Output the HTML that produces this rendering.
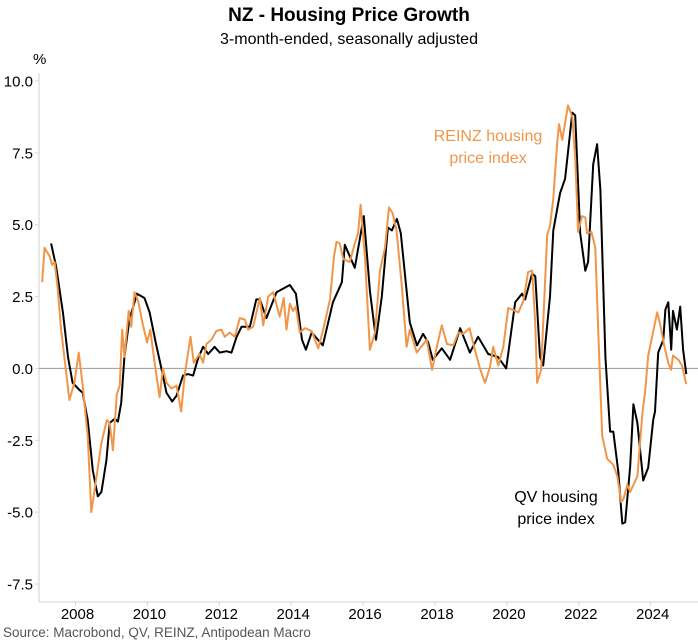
<!DOCTYPE html>
<html><head><meta charset="utf-8"><style>
body{margin:0;background:#fff;}
svg{display:block;font-family:"Liberation Sans",Arial,sans-serif;}
</style></head><body>
<svg width="698" height="641" viewBox="0 0 698 641">
<text x="349" y="21" text-anchor="middle" font-size="19" font-weight="bold" fill="#000">NZ - Housing Price Growth</text>
<text x="349" y="44" text-anchor="middle" font-size="16" fill="#000">3-month-ended, seasonally adjusted</text>
<text x="33" y="64" font-size="15" fill="#000">%</text>
<g id="axes"></g>
<g id="series"></g>
<text font-size="16" fill="#f0964a" text-anchor="middle"><tspan x="488" y="141">REINZ housing</tspan><tspan x="488" y="163">price index</tspan></text>
<text font-size="16" fill="#000" text-anchor="middle"><tspan x="556" y="502">QV housing</tspan><tspan x="556" y="524">price index</tspan></text>
<text x="3" y="637" font-size="13.5" fill="#555">Source: Macrobond, QV, REINZ, Antipodean Macro</text>
</svg>
<script>
const yTicks=[10,7.5,5,2.5,0,-2.5,-5,-7.5];
const yTickLabels=["10.0","7.5","5.0","2.5","0.0","-2.5","-5.0","-7.5"];
const xTicks=[2008,2010,2012,2014,2016,2018,2020,2022,2024];
const qvDates=[2007.32,2007.46,2007.65,2007.79,2007.92,2008.11,2008.20,2008.34,2008.48,2008.62,2008.72,2008.86,2008.95,2009.09,2009.18,2009.27,2009.36,2009.50,2009.71,2009.92,2010.06,2010.23,2010.39,2010.53,2010.69,2010.81,2010.99,2011.13,2011.27,2011.41,2011.55,2011.69,2011.87,2012.01,2012.20,2012.34,2012.48,2012.62,2012.85,2013.03,2013.13,2013.31,2013.59,2013.96,2014.13,2014.30,2014.41,2014.57,2014.88,2015.16,2015.41,2015.49,2015.77,2016.02,2016.19,2016.36,2016.52,2016.69,2016.80,2016.94,2017.05,2017.30,2017.50,2017.67,2017.81,2017.94,2018.19,2018.42,2018.70,2018.97,2019.20,2019.48,2019.75,2019.98,2020.23,2020.42,2020.51,2020.70,2020.79,2020.92,2021.01,2021.20,2021.29,2021.48,2021.62,2021.82,2021.90,2022.04,2022.18,2022.26,2022.40,2022.51,2022.60,2022.74,2022.87,2022.96,2023.10,2023.21,2023.29,2023.43,2023.52,2023.63,2023.79,2023.93,2024.07,2024.12,2024.21,2024.35,2024.41,2024.49,2024.57,2024.62,2024.73,2024.82,2024.90,2024.99];
const qvValues=[4.35,3.55,1.95,0.4,-0.5,-0.75,-0.85,-1.8,-3.55,-4.45,-4.3,-3.2,-1.9,-1.75,-1.85,-1.2,0.4,1.7,2.6,2.45,1.95,0.9,0,-0.85,-1.15,-0.95,-0.25,-0.2,-0.25,0.35,0.75,0.5,0.75,0.55,0.6,0.55,1.1,1.45,1.45,2.4,2.4,1.75,2.65,2.9,2.6,1.0,0.65,1.25,0.8,2.3,3.0,4.3,3.5,5.3,2.7,1.0,2.5,4.9,4.8,5.2,4.7,1.6,0.8,1.2,0.9,0.3,0.7,0.3,1.4,0.55,1.1,0.5,0.4,0,2.3,2.6,2.4,3.3,3.2,0.4,0.1,2.5,4.8,6.1,6.6,8.9,8.8,4.7,3.4,3.7,7.1,7.8,6.2,0.4,-2.2,-2.2,-3.6,-5.4,-5.35,-3.4,-1.25,-1.9,-3.9,-3.45,-1.8,-1.5,0.55,1.0,2.05,2.3,0.65,2.0,1.35,2.15,0.65,-0.2];
const reinzDates=[2007.07,2007.14,2007.28,2007.35,2007.42,2007.50,2007.60,2007.74,2007.83,2007.97,2008.09,2008.20,2008.34,2008.44,2008.58,2008.72,2008.87,2008.95,2009.04,2009.15,2009.23,2009.30,2009.36,2009.48,2009.55,2009.64,2009.74,2009.87,2009.99,2010.08,2010.20,2010.34,2010.43,2010.53,2010.67,2010.81,2010.94,2011.04,2011.20,2011.29,2011.45,2011.55,2011.64,2011.78,2011.92,2012.06,2012.15,2012.29,2012.43,2012.57,2012.71,2012.80,2012.94,2013.13,2013.22,2013.36,2013.50,2013.68,2013.79,2013.87,2013.96,2014.05,2014.13,2014.24,2014.38,2014.57,2014.75,2014.89,2015.08,2015.19,2015.26,2015.35,2015.45,2015.63,2015.77,2015.86,2015.93,2016.05,2016.19,2016.33,2016.47,2016.61,2016.72,2016.82,2016.93,2017.07,2017.21,2017.30,2017.49,2017.77,2017.92,2018.05,2018.19,2018.33,2018.51,2018.65,2018.79,2018.96,2019.11,2019.25,2019.39,2019.53,2019.62,2019.76,2019.90,2020.04,2020.32,2020.46,2020.59,2020.70,2020.79,2020.84,2020.95,2021.12,2021.20,2021.29,2021.40,2021.45,2021.54,2021.62,2021.70,2021.82,2021.90,2021.98,2022.09,2022.18,2022.23,2022.35,2022.46,2022.54,2022.65,2022.79,2022.96,2023.07,2023.18,2023.24,2023.35,2023.43,2023.63,2023.77,2023.85,2023.93,2024.04,2024.18,2024.27,2024.38,2024.49,2024.57,2024.62,2024.77,2024.87,2024.99];
const reinzValues=[3.0,4.2,3.9,3.6,3.7,2.85,1.35,-0.15,-1.1,-0.5,0.55,-0.6,-2.35,-5.0,-3.8,-2.6,-1.8,-1.9,-2.85,-0.9,-0.6,1.35,0.4,2.0,1.45,2.65,2.35,1.55,0.9,1.35,0.2,-1.0,0,-0.5,-0.7,-0.6,-1.5,-0.2,1.1,0.2,0.5,0.2,0.85,1.0,1.3,1.35,1.1,1.25,1.1,1.75,1.7,1.35,1.45,2.45,1.5,2.5,2.65,1.8,2.45,1.35,2.25,2.0,2.15,1.25,1.4,1.3,0.7,1.35,2.4,3.9,4.4,4.35,3.8,3.7,4.35,4.7,5.7,3.9,0.65,1.25,3.4,4.2,5.6,5.4,4.8,2.95,0.75,1.35,0.55,1.0,-0.05,0.75,1.5,0.85,0.8,1.25,1.2,1.4,0.65,0,-0.5,0.05,0.75,0.1,0.75,2.1,1.95,2.35,3.35,3.4,1.55,-0.5,-0.05,4.65,4.95,5.9,7.85,8.5,7.95,8.55,9.15,8.75,7.35,4.75,5.3,5.25,4.7,4.75,4.2,1.35,-2.35,-3.15,-3.35,-3.75,-4.65,-4.55,-4.05,-4.3,-3.75,-1.55,-0.75,0.45,1.1,1.95,1.5,0.75,0.2,-0.05,0.45,0.3,0.1,-0.55];

const NS='http://www.w3.org/2000/svg';
const L=39,R=698,T=81,B=602;
function xS(y){return 75.5+(y-2008)*35.95;}
function yS(v){return 368.4-v*28.745;}
function mk(tag,attrs,parent){const e=document.createElementNS(NS,tag);for(const k in attrs)e.setAttribute(k,attrs[k]);parent.appendChild(e);return e;}
const axes=document.getElementById('axes');
const series=document.getElementById('series');
let e=mk('line',{x1:L,y1:T-8,x2:L,y2:B,stroke:'#d9d9d9','stroke-width':1.2},axes);


e=mk('line',{x1:L,y1:B,x2:R,y2:B,stroke:'#d9d9d9','stroke-width':1.2},axes);


yTicks.forEach((v,i)=>{
  const t=mk('line',{x1:L-4,y1:yS(v),x2:L,y2:yS(v),stroke:'#d9d9d9'},axes);
  
  
  const tx=mk('text',{x:33,y:yS(v)+5.5,'text-anchor':'end','font-size':15,fill:'#000'},axes);
  tx.textContent=yTickLabels[i];
  
  
});
xTicks.forEach(yr=>{
  const t=mk('line',{x1:xS(yr),y1:B,x2:xS(yr),y2:B+4,stroke:'#d9d9d9'},axes);
  
  
  const tx=mk('text',{x:xS(yr)+2,y:619,'text-anchor':'middle','font-size':15,fill:'#000'},axes);
  tx.textContent=String(yr);
  
  
});
e=mk('line',{x1:L,y1:yS(0),x2:R,y2:yS(0),stroke:'#999','stroke-width':1},axes);


function pts(d,v){return d.map((x,i)=>xS(x).toFixed(1)+','+yS(v[i]).toFixed(1)).join(' ');}
e=mk('polyline',{points:pts(qvDates,qvValues),fill:'none',stroke:'#000','stroke-width':2,'stroke-linejoin':'round'},series);


e=mk('polyline',{points:pts(reinzDates,reinzValues),fill:'none',stroke:'#f0964a','stroke-width':2,'stroke-linejoin':'round'},series);


</script>
</body></html>
